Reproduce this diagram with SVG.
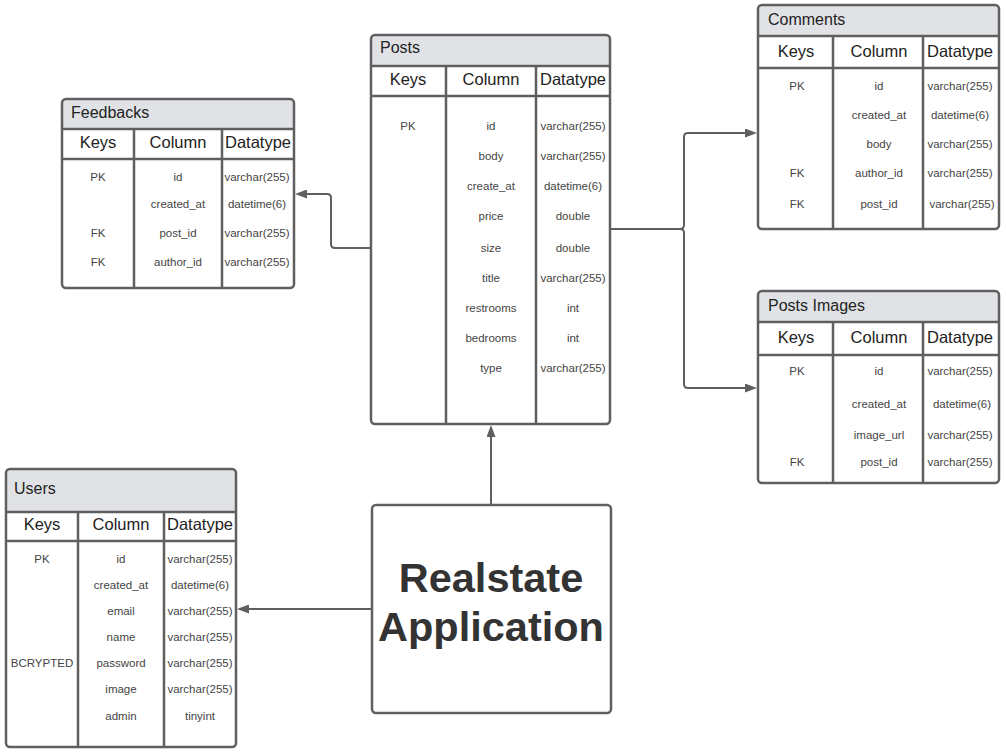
<svg xmlns="http://www.w3.org/2000/svg" width="1006" height="755" viewBox="0 0 1006 755">
<style>
.frame{fill:none;stroke:#5f5f5f;stroke-width:2.5}
.body{fill:#ffffff}
.tbar{fill:#e0e2e6}
.ln{stroke:#5f5f5f;stroke-width:2.5}
.ttl{font-family:"Liberation Sans",Arial,sans-serif;font-size:16px;fill:#222}
.hdr{font-family:"Liberation Sans",Arial,sans-serif;font-size:16.5px;fill:#222;text-anchor:middle}
.row{font-family:"Liberation Sans",Arial,sans-serif;font-size:11.5px;fill:#444;text-anchor:middle}
.big{font-family:"Liberation Sans",Arial,sans-serif;font-size:41.5px;font-weight:bold;fill:#333;text-anchor:middle}
.con{fill:none;stroke:#5f5f5f;stroke-width:2}
</style>
<defs>
<marker id="arr" viewBox="0 0 12 9" refX="0" refY="4.5" markerWidth="12" markerHeight="9" markerUnits="userSpaceOnUse" orient="auto">
<path d="M0,0 L12,4.5 L0,9 Z" fill="#5f5f5f"/>
</marker>
</defs>
<rect width="1006" height="755" fill="#ffffff"/>

<g id="connectors">
<path class="con" d="M370,248 H335 Q331,248 331,244 V198 Q331,194 327,194 H307" marker-end="url(#arr)"/>
<path class="con" d="M611,229 H680 Q684,229 684,225 V137 Q684,133 688,133 H745" marker-end="url(#arr)"/>
<path class="con" d="M611,229 H680 Q684,229 684,233 V384 Q684,388 688,388 H745" marker-end="url(#arr)"/>
<path class="con" d="M491,505 V437" marker-end="url(#arr)"/>
<path class="con" d="M371,609 H249" marker-end="url(#arr)"/>
</g>

<g id="posts">
<rect class="body" x="371" y="35" width="239" height="389" rx="4"/>
<path class="tbar" d="M371,66 V39 Q371,35 375,35 H606 Q610,35 610,39 V66 Z"/>
<rect class="frame" x="371" y="35" width="239" height="389" rx="4"/>
<line class="ln" x1="371" y1="66" x2="610" y2="66"/>
<line class="ln" x1="371" y1="96" x2="610" y2="96"/>
<line class="ln" x1="446" y1="66" x2="446" y2="424"/>
<line class="ln" x1="536" y1="66" x2="536" y2="424"/>
<text class="ttl" x="380" y="53">Posts</text>
<text class="hdr" x="408" y="85">Keys</text>
<text class="hdr" x="491" y="85">Column</text>
<text class="hdr" x="573" y="85">Datatype</text>
<text class="row" x="408" y="130">PK</text>
<text class="row" x="491" y="130">id</text><text class="row" x="573" y="130">varchar(255)</text>
<text class="row" x="491" y="160">body</text><text class="row" x="573" y="160">varchar(255)</text>
<text class="row" x="491" y="190">create_at</text><text class="row" x="573" y="190">datetime(6)</text>
<text class="row" x="491" y="220">price</text><text class="row" x="573" y="220">double</text>
<text class="row" x="491" y="252">size</text><text class="row" x="573" y="252">double</text>
<text class="row" x="491" y="282">title</text><text class="row" x="573" y="282">varchar(255)</text>
<text class="row" x="491" y="312">restrooms</text><text class="row" x="573" y="312">int</text>
<text class="row" x="491" y="342">bedrooms</text><text class="row" x="573" y="342">int</text>
<text class="row" x="491" y="372">type</text><text class="row" x="573" y="372">varchar(255)</text>
</g>

<g id="feedbacks">
<rect class="body" x="62" y="99" width="232" height="189" rx="4"/>
<path class="tbar" d="M62,129 V103 Q62,99 66,99 H290 Q294,99 294,103 V129 Z"/>
<rect class="frame" x="62" y="99" width="232" height="189" rx="4"/>
<line class="ln" x1="62" y1="129" x2="294" y2="129"/>
<line class="ln" x1="62" y1="159" x2="294" y2="159"/>
<line class="ln" x1="134" y1="129" x2="134" y2="288"/>
<line class="ln" x1="222" y1="129" x2="222" y2="288"/>
<text class="ttl" x="71" y="118">Feedbacks</text>
<text class="hdr" x="98" y="148">Keys</text>
<text class="hdr" x="178" y="148">Column</text>
<text class="hdr" x="258" y="148">Datatype</text>
<text class="row" x="98" y="181">PK</text><text class="row" x="178" y="181">id</text><text class="row" x="257" y="181">varchar(255)</text>
<text class="row" x="178" y="208">created_at</text><text class="row" x="257" y="208">datetime(6)</text>
<text class="row" x="98" y="237">FK</text><text class="row" x="178" y="237">post_id</text><text class="row" x="257" y="237">varchar(255)</text>
<text class="row" x="98" y="266">FK</text><text class="row" x="178" y="266">author_id</text><text class="row" x="257" y="266">varchar(255)</text>
</g>

<g id="comments">
<rect class="body" x="758" y="5" width="241" height="224" rx="4"/>
<path class="tbar" d="M758,36 V9 Q758,5 762,5 H995 Q999,5 999,9 V36 Z"/>
<rect class="frame" x="758" y="5" width="241" height="224" rx="4"/>
<line class="ln" x1="758" y1="36" x2="999" y2="36"/>
<line class="ln" x1="758" y1="68" x2="999" y2="68"/>
<line class="ln" x1="833" y1="36" x2="833" y2="229"/>
<line class="ln" x1="923" y1="36" x2="923" y2="229"/>
<text class="ttl" x="768" y="25">Comments</text>
<text class="hdr" x="796" y="57">Keys</text>
<text class="hdr" x="879" y="57">Column</text>
<text class="hdr" x="960" y="57">Datatype</text>
<text class="row" x="797" y="90">PK</text><text class="row" x="879" y="90">id</text><text class="row" x="960" y="90">varchar(255)</text>
<text class="row" x="879" y="119">created_at</text><text class="row" x="960" y="119">datetime(6)</text>
<text class="row" x="879" y="148">body</text><text class="row" x="960" y="148">varchar(255)</text>
<text class="row" x="797" y="177">FK</text><text class="row" x="879" y="177">author_id</text><text class="row" x="960" y="177">varchar(255)</text>
<text class="row" x="797" y="208">FK</text><text class="row" x="879" y="208">post_id</text><text class="row" x="962" y="208">varchar(255)</text>
</g>

<g id="posts-images">
<rect class="body" x="758" y="291" width="241" height="192" rx="4"/>
<path class="tbar" d="M758,322 V295 Q758,291 762,291 H995 Q999,291 999,295 V322 Z"/>
<rect class="frame" x="758" y="291" width="241" height="192" rx="4"/>
<line class="ln" x1="758" y1="322" x2="999" y2="322"/>
<line class="ln" x1="758" y1="355" x2="999" y2="355"/>
<line class="ln" x1="833" y1="322" x2="833" y2="483"/>
<line class="ln" x1="923" y1="322" x2="923" y2="483"/>
<text class="ttl" x="768" y="311">Posts Images</text>
<text class="hdr" x="796" y="343">Keys</text>
<text class="hdr" x="879" y="343">Column</text>
<text class="hdr" x="960" y="343">Datatype</text>
<text class="row" x="797" y="375">PK</text><text class="row" x="879" y="375">id</text><text class="row" x="960" y="375">varchar(255)</text>
<text class="row" x="879" y="408">created_at</text><text class="row" x="962" y="408">datetime(6)</text>
<text class="row" x="879" y="439">image_url</text><text class="row" x="960" y="439">varchar(255)</text>
<text class="row" x="797" y="466">FK</text><text class="row" x="879" y="466">post_id</text><text class="row" x="960" y="466">varchar(255)</text>
</g>

<g id="users">
<rect class="body" x="6" y="469" width="230" height="278" rx="4"/>
<path class="tbar" d="M6,512 V473 Q6,469 10,469 H232 Q236,469 236,473 V512 Z"/>
<rect class="frame" x="6" y="469" width="230" height="278" rx="4"/>
<line class="ln" x1="6" y1="512" x2="236" y2="512"/>
<line class="ln" x1="6" y1="541" x2="236" y2="541"/>
<line class="ln" x1="78" y1="512" x2="78" y2="747"/>
<line class="ln" x1="164" y1="512" x2="164" y2="747"/>
<text class="ttl" x="14" y="494">Users</text>
<text class="hdr" x="42" y="530">Keys</text>
<text class="hdr" x="121" y="530">Column</text>
<text class="hdr" x="200" y="530">Datatype</text>
<text class="row" x="42" y="563">PK</text><text class="row" x="121" y="563">id</text><text class="row" x="200" y="563">varchar(255)</text>
<text class="row" x="121" y="589">created_at</text><text class="row" x="200" y="589">datetime(6)</text>
<text class="row" x="121" y="615">email</text><text class="row" x="200" y="615">varchar(255)</text>
<text class="row" x="121" y="641">name</text><text class="row" x="200" y="641">varchar(255)</text>
<text class="row" x="42" y="667">BCRYPTED</text><text class="row" x="121" y="667">password</text><text class="row" x="200" y="667">varchar(255)</text>
<text class="row" x="121" y="693">image</text><text class="row" x="200" y="693">varchar(255)</text>
<text class="row" x="121" y="720">admin</text><text class="row" x="200" y="720">tinyint</text>
</g>

<g id="realstate-application">
<rect x="372" y="505" width="239" height="208" rx="4" fill="#ffffff" stroke="#5f5f5f" stroke-width="2.5"/>
<text class="big" x="491" y="592">Realstate</text>
<text class="big" x="491" y="641">Application</text>
</g>
</svg>
